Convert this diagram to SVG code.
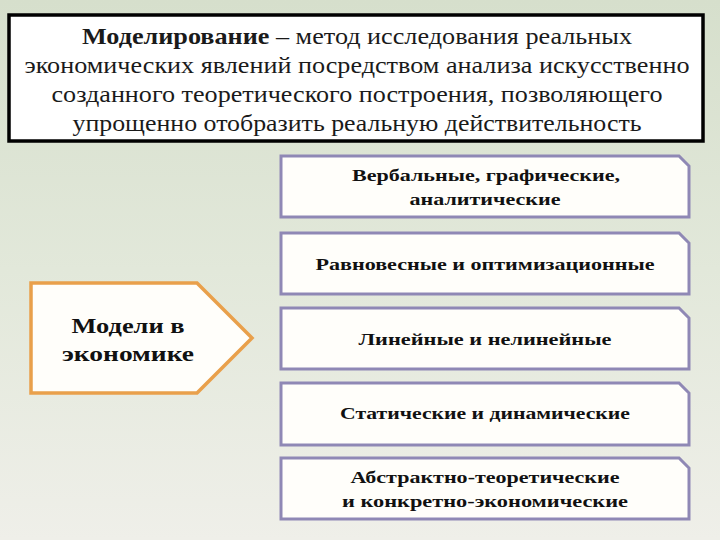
<svg xmlns="http://www.w3.org/2000/svg" width="720" height="540" viewBox="0 0 720 540">
<defs>
<linearGradient id="bg" x1="0" y1="0" x2="0" y2="1">
<stop offset="0" stop-color="#d6dfcc"/>
<stop offset="0.5" stop-color="#e2e8da"/>
<stop offset="1" stop-color="#efefe9"/>
</linearGradient>
<style>
.top{font-family:"Liberation Serif","DejaVu Serif",serif;font-size:23px;fill:#1a1a1a;text-anchor:middle}
.lbl{font-family:"Liberation Serif","DejaVu Serif",serif;font-size:17px;font-weight:bold;fill:#111;text-anchor:middle}
.big{font-family:"Liberation Serif","DejaVu Serif",serif;font-size:21px;font-weight:bold;fill:#111;text-anchor:middle}
.box{fill:#fffefa;stroke:#8f88b5;stroke-width:3}
.arrow{fill:#fffefa;stroke:#e9a04b;stroke-width:3.5}
</style>
</defs>
<rect width="720" height="540" fill="url(#bg)"/>
<g id="definition">
<rect x="9" y="15" width="694" height="126" fill="#ffffff" stroke="#000" stroke-width="3.5"/>
<text class="top" x="357" y="44" textLength="550" lengthAdjust="spacingAndGlyphs"><tspan font-weight="bold">Моделирование</tspan> – метод исследования реальных</text>
<text class="top" x="357" y="73" textLength="665" lengthAdjust="spacingAndGlyphs">экономических явлений посредством анализа искусственно</text>
<text class="top" x="357" y="102" textLength="611" lengthAdjust="spacingAndGlyphs">созданного теоретического построения, позволяющего</text>
<text class="top" x="357" y="131" textLength="569" lengthAdjust="spacingAndGlyphs">упрощенно отобразить реальную действительность</text>
</g>
<g id="connectors"></g>
<g id="models">
<polygon class="arrow" points="31,283 197,283 252,338 197,393 31,393"/>
<text class="big" x="128" y="333" textLength="113" lengthAdjust="spacingAndGlyphs">Модели в</text>
<text class="big" x="128" y="361" textLength="132" lengthAdjust="spacingAndGlyphs">экономике</text>
</g>
<g id="box1">
<polygon class="box" points="281,156 679,156 689,166 689,217 281,217"/>
<text class="lbl" x="486" y="181" textLength="268" lengthAdjust="spacingAndGlyphs">Вербальные, графические,</text>
<text class="lbl" x="485" y="205" textLength="151" lengthAdjust="spacingAndGlyphs">аналитические</text>
</g>
<g id="box2">
<polygon class="box" points="281,233 679,233 689,243 689,294 281,294"/>
<text class="lbl" x="485" y="270" textLength="339" lengthAdjust="spacingAndGlyphs">Равновесные и оптимизационные</text>
</g>
<g id="box3">
<polygon class="box" points="281,308 679,308 689,318 689,369 281,369"/>
<text class="lbl" x="485" y="345" textLength="253" lengthAdjust="spacingAndGlyphs">Линейные и нелинейные</text>
</g>
<g id="box4">
<polygon class="box" points="281,383 679,383 689,393 689,445 281,445"/>
<text class="lbl" x="485" y="419" textLength="290" lengthAdjust="spacingAndGlyphs">Статические и динамические</text>
</g>
<g id="box5">
<polygon class="box" points="281,458 679,458 689,468 689,519 281,519"/>
<text class="lbl" x="485" y="483" textLength="269" lengthAdjust="spacingAndGlyphs">Абстрактно-теоретические</text>
<text class="lbl" x="485" y="507" textLength="286" lengthAdjust="spacingAndGlyphs">и конкретно-экономические</text>
</g>
</svg>
